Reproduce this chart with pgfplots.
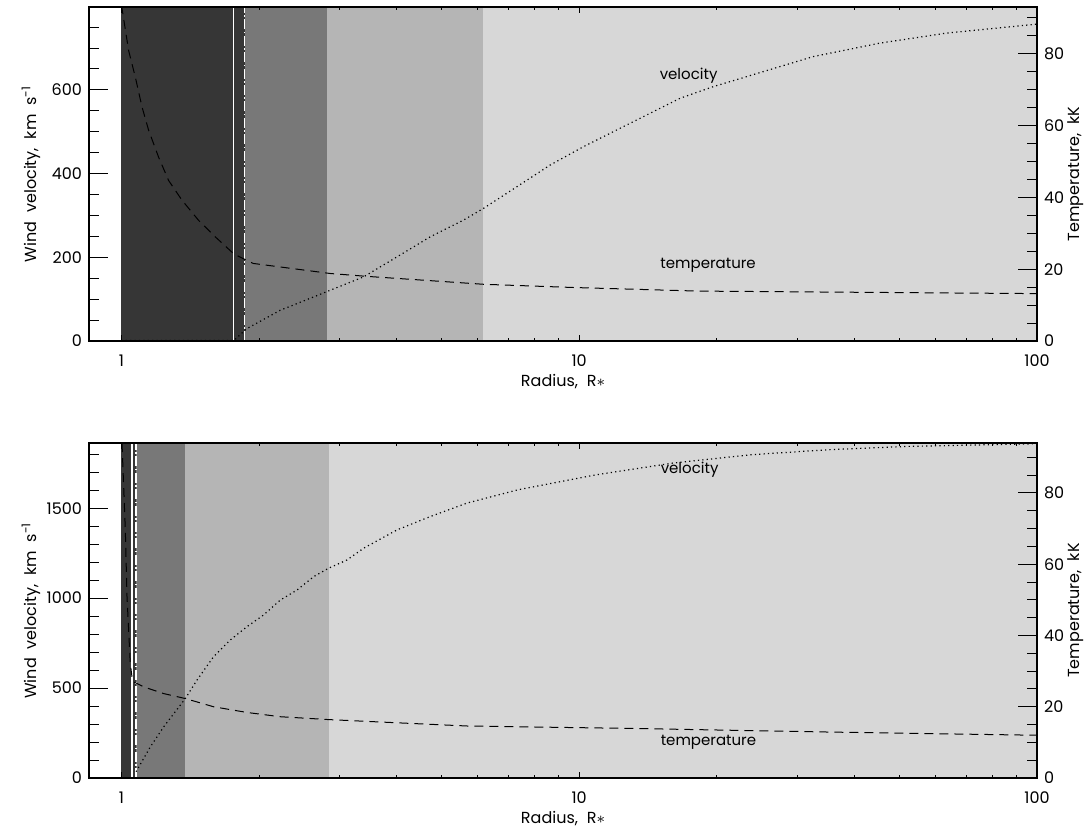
\documentclass[border=0pt]{standalone}
\usepackage{pgfplots}
\pgfplotsset{compat=1.18}
\usepackage{fontspec}
\setmainfont{Poppins}
\definecolor{g1}{RGB}{54,54,54}
\definecolor{g2}{RGB}{120,120,120}
\definecolor{g3}{RGB}{181,181,181}
\definecolor{g4}{RGB}{215,215,215}
\newcommand{\fs}{\fontsize{7.5}{9}\selectfont}
\newcommand{\fl}{\fontsize{8}{9.6}\selectfont}
\newcommand{\wsp}{\hspace{0.55em}}
\tikzset{
 myvel/.style={line width=0.6pt, black, dash pattern=on 0.6pt off 1.6pt},
 mytem/.style={line width=0.5pt, black, dash pattern=on 4.5pt off 3pt},
 mywsolid/.style={line width=0.6pt, white},
 mywdash/.style={line width=0.6pt, white, dash pattern=on 5pt off 1.2pt on 0.8pt off 1.2pt},
}
\begin{document}
\begin{tikzpicture}
\useasboundingbox (0,0) rectangle (542.5pt,-413.5pt);
% ===== top panel: left axis =====
\begin{semilogxaxis}[scale only axis, width=474pt, height=167pt, at={(44.5pt,-170.5pt)}, anchor=south west,
  xmin=0.85, xmax=100, ymin=0, ymax=798,
  axis line style={line width=0.8pt}, tick style={black, line width=0.5pt},
  tick label style={font=\fl}, label style={font=\fl},
  /pgf/number format/assume math mode=true,
  xtick=\empty, xminorticks=false, ytick pos=left,
  major tick length=9.5pt, minor tick length=5pt, axis on top,
  ytick={0,200,400,600}, minor ytick={50,100,150,250,300,350,450,500,550,650,700,750},
  ylabel={Wind\wsp velocity,\wsp km\wsp s\textsuperscript{-1}},
  ylabel style={at={(axis description cs:-0.0612,0.5)}, anchor=center}]
\addplot[fill=g1, draw=none] coordinates {(1,0) (1.86,0) (1.86,800) (1,800)} -- cycle;
\addplot[fill=g2, draw=none] coordinates {(1.86,0) (2.815,0) (2.815,800) (1.86,800)} -- cycle;
\addplot[fill=g3, draw=none] coordinates {(2.815,0) (6.18,0) (6.18,800) (2.815,800)} -- cycle;
\addplot[fill=g4, draw=none] coordinates {(6.18,0) (100,0) (100,800) (6.18,800)} -- cycle;
\addplot[mywsolid] coordinates {(1.756,0) (1.756,800)};
\addplot[mywdash] coordinates {(1.86,0) (1.86,800)};
\addplot[myvel] coordinates {(1.0,1) (1.76,1) (1.86,25) (1.881,29.7) (2.224,73.5) (2.630,105.3) (2.860,121.3) (3.381,153.2) (4.000,201) (4.728,248.9) (5.589,288.9) (6.181,316.9) (7.311,368.6) (8.644,420.5) (10.22,464.3) (12.08,504.3) (14.29,544.2) (16.62,580.1) (19.65,607.9) (23.24,631.8) (27.48,655.8) (32.48,679.7) (38.42,695.7) (45.41,711.8) (53.70,723.7) (63.50,735.7) (75.09,743.6) (88.80,751.5) (100,757.2)};
\node[font=\fs] at (axis cs:17.34,633.5) {velocity};
\node[font=\fs] at (axis cs:19.13,181) {temperature};
\end{semilogxaxis}
% ===== top panel: x ticks =====
\begin{semilogxaxis}[scale only axis, width=474pt, height=167pt, at={(44.5pt,-170.5pt)}, anchor=south west,
  xmin=0.85, xmax=100, ymin=0, ymax=798,
  axis line style={line width=0.8pt}, tick style={black, line width=0.5pt},
  tick label style={font=\fl}, label style={font=\fl},
  /pgf/number format/assume math mode=true,
  ytick=\empty, yminorticks=false,
  xtick={1,10,100}, xticklabels={1,10,100},
  minor xtick={2,3,4,5,6,7,8,9,20,30,40,50,60,70,80,90},
  major tick length=3pt, minor tick length=1.5pt,
  xticklabel style={anchor=center, yshift=-10pt},
  xlabel={Radius,\wsp R$\ast$},
  xlabel style={at={(axis description cs:0.5,0)}, yshift=-20.5pt, anchor=center}]
\end{semilogxaxis}
% ===== top panel: right axis =====
\begin{semilogxaxis}[scale only axis, width=474pt, height=167pt, at={(44.5pt,-170.5pt)}, anchor=south west,
  xmin=0.85, xmax=100, ymin=0, ymax=93,
  axis line style={line width=0.8pt}, tick style={black, line width=0.5pt},
  tick label style={font=\fl}, label style={font=\fl},
  /pgf/number format/assume math mode=true,
  xtick=\empty, xminorticks=false,
  ytick={0,20,40,60,80}, minor ytick={5,10,15,25,30,35,45,50,55,65,70,75,85,90},
  ytick pos=right, yticklabel pos=right,
  major tick length=9.5pt, minor tick length=5pt,
  ylabel={Temperature,\wsp kK},
  ylabel style={at={(axis description cs:1.0411,0.5)}, anchor=center}]
\addplot[mytem] coordinates {(1.0,93.5) (1.0035,92.6) (1.0374,80.9) (1.0729,73.5) (1.1096,65.2) (1.1471,58.7) (1.2061,51.2) (1.2684,44.7) (1.357,39.2) (1.4749,33.6) (1.6041,29.0) (1.7596,24.3) (1.8492,22.9) (1.942,21.6) (2.86,18.8) (3.44,18.0) (6.18,15.8) (9.72,14.9) (18.22,13.9) (100,13.2)};
\end{semilogxaxis}
% ===== bottom panel: left axis =====
\begin{semilogxaxis}[scale only axis, width=474pt, height=167.5pt, at={(44.5pt,-389pt)}, anchor=south west,
  xmin=0.85, xmax=100, ymin=0, ymax=1862,
  axis line style={line width=0.8pt}, tick style={black, line width=0.5pt},
  tick label style={font=\fl}, label style={font=\fl},
  /pgf/number format/assume math mode=true, /pgf/number format/1000 sep={},
  xtick=\empty, xminorticks=false, ytick pos=left,
  major tick length=9.5pt, minor tick length=5pt, axis on top,
  ytick={0,500,1000,1500}, minor ytick={100,200,300,400,600,700,800,900,1100,1200,1300,1400,1600,1700,1800},
  scaled y ticks=false,
  ylabel={Wind\wsp velocity,\wsp km\wsp s\textsuperscript{-1}},
  ylabel style={at={(axis description cs:-0.0612,0.5)}, anchor=center}]
\addplot[fill=g1, draw=none] coordinates {(1,0) (1.077,0) (1.077,1900) (1,1900)} -- cycle;
\addplot[fill=g2, draw=none] coordinates {(1.077,0) (1.38,0) (1.38,1900) (1.077,1900)} -- cycle;
\addplot[fill=g3, draw=none] coordinates {(1.38,0) (2.836,0) (2.836,1900) (1.38,1900)} -- cycle;
\addplot[fill=g4, draw=none] coordinates {(2.836,0) (100,0) (100,1900) (2.836,1900)} -- cycle;
\addplot[mywsolid] coordinates {(1.055,0) (1.055,1900)};
\addplot[mywdash] coordinates {(1.077,0) (1.077,1900)};
\addplot[myvel] coordinates {(1.077,35) (1.157,173) (1.237,284) (1.38,442) (1.463,544) (1.590,674) (1.729,767) (1.881,841) (2.045,906) (2.224,989) (2.420,1045) (2.630,1119) (2.836,1166) (3.111,1212) (3.381,1277) (4.0,1379) (4.728,1453) (5.685,1528) (7.352,1602) (10.87,1685) (16.07,1751) (23.77,1797) (35.15,1825) (51.94,1843) (76.8,1852) (100,1858)};
\node[font=\fs] at (axis cs:17.43,1713) {velocity};
\node[font=\fs] at (axis cs:19.16,200) {temperature};
\end{semilogxaxis}
% ===== bottom panel: x ticks =====
\begin{semilogxaxis}[scale only axis, width=474pt, height=167.5pt, at={(44.5pt,-389pt)}, anchor=south west,
  xmin=0.85, xmax=100, ymin=0, ymax=1862,
  axis line style={line width=0.8pt}, tick style={black, line width=0.5pt},
  tick label style={font=\fl}, label style={font=\fl},
  /pgf/number format/assume math mode=true,
  ytick=\empty, yminorticks=false,
  xtick={1,10,100}, xticklabels={1,10,100},
  minor xtick={2,3,4,5,6,7,8,9,20,30,40,50,60,70,80,90},
  major tick length=3pt, minor tick length=1.5pt,
  xticklabel style={anchor=center, yshift=-10pt},
  xlabel={Radius,\wsp R$\ast$},
  xlabel style={at={(axis description cs:0.5,0)}, yshift=-20.5pt, anchor=center}]
\end{semilogxaxis}
% ===== bottom panel: right axis =====
\begin{semilogxaxis}[scale only axis, width=474pt, height=167.5pt, at={(44.5pt,-389pt)}, anchor=south west,
  xmin=0.85, xmax=100, ymin=0, ymax=94,
  axis line style={line width=0.8pt}, tick style={black, line width=0.5pt},
  tick label style={font=\fl}, label style={font=\fl},
  /pgf/number format/assume math mode=true,
  xtick=\empty, xminorticks=false,
  ytick={0,20,40,60,80}, minor ytick={5,10,15,25,30,35,45,50,55,65,70,75,85,90},
  ytick pos=right, yticklabel pos=right,
  major tick length=9.5pt, minor tick length=5pt,
  ylabel={Temperature,\wsp kK},
  ylabel style={at={(axis description cs:1.0411,0.5)}, anchor=center}]
\addplot[mytem] coordinates {(1.0035,94) (1.0203,69.7) (1.029,50.9) (1.046,32.2) (1.055,28.4) (1.064,27.0) (1.118,25.6) (1.237,23.7) (1.38,22.3) (1.59,20.0) (1.881,18.4) (2.224,17.2) (2.836,16.4) (4.0,15.5) (5.685,14.6) (13.22,13.9) (35.15,12.9) (100,12.0)};
\end{semilogxaxis}
\end{tikzpicture}
\end{document}
